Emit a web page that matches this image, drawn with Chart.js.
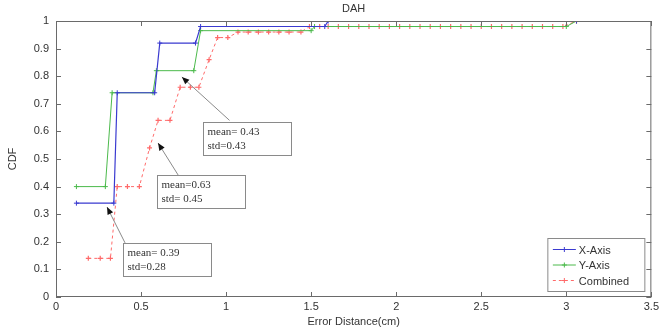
<!DOCTYPE html>
<html>
<head>
<meta charset="utf-8">
<script src="https://cdn.jsdelivr.net/npm/chart.js@4.4.0/dist/chart.umd.min.js"></script>
<style>
  html, body { margin: 0; padding: 0; background: #fff; }
  #wrap { width: 662px; height: 329px; position: relative; }
</style>
</head>
<body>
<div id="wrap"><canvas id="cdfChart"></canvas></div>
<script>
// CDF data
const xAxisPts = [
  [0.12, 0.34], [0.34, 0.34], [0.36, 0.74], [0.58, 0.74], [0.61, 0.92],
  [0.82, 0.92], [0.85, 0.98], [1.58, 0.98], [1.60, 1.0], [3.06, 1.0]
];
const yAxisPts = [
  [0.12, 0.40], [0.29, 0.40], [0.33, 0.74], [0.57, 0.74], [0.59, 0.82],
  [0.81, 0.82], [0.85, 0.965], [1.50, 0.965], [1.52, 0.98], [3.00, 0.98], [3.06, 1.0]
];
const combinedPts = [
  [0.19, 0.14], [0.26, 0.14], [0.32, 0.14], [0.36, 0.40], [0.42, 0.40],
  [0.49, 0.40], [0.55, 0.54], [0.60, 0.64], [0.67, 0.64], [0.73, 0.76],
  [0.79, 0.76], [0.84, 0.76], [0.90, 0.86], [0.95, 0.94], [1.01, 0.94],
  [1.07, 0.96], [1.13, 0.96], [1.19, 0.96], [1.25, 0.96], [1.31, 0.96],
  [1.37, 0.96], [1.44, 0.96], [1.49, 0.98], [1.55, 0.98], [1.60, 0.98],
  [1.66, 0.98], [1.72, 0.98], [1.78, 0.98], [1.84, 0.98], [1.90, 0.98],
  [1.96, 0.98], [2.02, 0.98], [2.08, 0.98], [2.14, 0.98], [2.20, 0.98],
  [2.26, 0.98], [2.32, 0.98], [2.38, 0.98], [2.44, 0.98], [2.50, 0.98],
  [2.56, 0.98], [2.62, 0.98], [2.68, 0.98], [2.74, 0.98], [2.80, 0.98],
  [2.86, 0.98], [2.92, 0.98], [2.98, 0.98], [3.06, 1.0]
];
const seriesNames = ['X-Axis', 'Y-Axis', 'Combined'];
const xTicks = [0, 0.5, 1, 1.5, 2, 2.5, 3, 3.5];
const yTicks = [0, 0.1, 0.2, 0.3, 0.4, 0.5, 0.6, 0.7, 0.8, 0.9, 1];

// text arrows: head = point on curve, tail = where the box starts
const notes = [
  { head: [0.74, 0.797], tail: [1.02, 0.64], box: [0.865, 0.634], lines: ['mean= 0.43', 'std=0.43'] },
  { head: [0.60, 0.558], tail: [0.718, 0.442], box: [0.594, 0.442], lines: ['mean=0.63', 'std= 0.45'] },
  { head: [0.30, 0.326], tail: [0.406, 0.196], box: [0.394, 0.196], lines: ['mean= 0.39', 'std=0.28'] }
];

const toXY = pts => pts.map(p => ({ x: p[0], y: p[1] }));
const labelFont = { family: 'Arial, "Liberation Sans", sans-serif', size: 11 };

// box, inward ticks, title, axis titles, arrows and legend
const matlabDecor = {
  id: 'matlabDecor',
  afterDatasetsDraw(chart) {
    const ctx = chart.ctx;
    const a = chart.chartArea;
    const xs = chart.scales.x, ys = chart.scales.y;
    ctx.save();

    ctx.strokeStyle = '#6a6a6a';
    ctx.lineWidth = 1;
    ctx.strokeRect(a.left + 0.5, a.top + 0.5, a.right - a.left - 1, a.bottom - a.top - 1);
    ctx.beginPath();
    xTicks.forEach(t => {
      const px = Math.round(xs.getPixelForValue(t)) + 0.5;
      ctx.moveTo(px, a.bottom); ctx.lineTo(px, a.bottom - 5);
      ctx.moveTo(px, a.top); ctx.lineTo(px, a.top + 5);
    });
    yTicks.forEach(t => {
      const py = Math.round(ys.getPixelForValue(t)) + 0.5;
      ctx.moveTo(a.left, py); ctx.lineTo(a.left + 5, py);
      ctx.moveTo(a.right, py); ctx.lineTo(a.right - 5, py);
    });
    ctx.stroke();

    ctx.fillStyle = '#333';
    ctx.font = '11px Arial, "Liberation Sans", sans-serif';
    ctx.textAlign = 'center';
    ctx.textBaseline = 'middle';
    ctx.fillText('DAH', (a.left + a.right) / 2, 9);
    ctx.fillText('Error Distance(cm)', (a.left + a.right) / 2, 322);
    ctx.save();
    ctx.translate(13, (a.top + a.bottom) / 2);
    ctx.rotate(-Math.PI / 2);
    ctx.fillText('CDF', 0, 0);
    ctx.restore();

    // annotations
    notes.forEach(n => {
      const hx = xs.getPixelForValue(n.head[0]), hy = ys.getPixelForValue(n.head[1]);
      const tx = xs.getPixelForValue(n.tail[0]), ty = ys.getPixelForValue(n.tail[1]);
      ctx.strokeStyle = '#8a8a8a';
      ctx.lineWidth = 1;
      ctx.beginPath();
      ctx.moveTo(tx, ty); ctx.lineTo(hx, hy);
      ctx.stroke();
      const ang = Math.atan2(hy - ty, hx - tx);
      ctx.fillStyle = '#111';
      ctx.beginPath();
      ctx.moveTo(hx, hy);
      ctx.lineTo(hx - 8 * Math.cos(ang - 0.4), hy - 8 * Math.sin(ang - 0.4));
      ctx.lineTo(hx - 8 * Math.cos(ang + 0.4), hy - 8 * Math.sin(ang + 0.4));
      ctx.closePath();
      ctx.fill();

      const bx = Math.round(xs.getPixelForValue(n.box[0])) + 0.5;
      const by = Math.round(ys.getPixelForValue(n.box[1])) + 0.5;
      ctx.fillStyle = '#fff';
      ctx.fillRect(bx, by, 88, 33);
      ctx.strokeStyle = '#8a8a8a';
      ctx.strokeRect(bx, by, 88, 33);
      ctx.fillStyle = '#333';
      ctx.font = '11px "Liberation Serif", "Times New Roman", serif';
      ctx.textAlign = 'left';
      ctx.textBaseline = 'middle';
      ctx.fillText(n.lines[0], bx + 4, by + 10);
      ctx.fillText(n.lines[1], bx + 4, by + 24);
    });

    // legend in lower right corner
    const lw = 97, lh = 53;
    const lx = a.right - 103.5, ly = a.bottom - 58.5;
    ctx.fillStyle = '#fff';
    ctx.fillRect(lx, ly, lw, lh);
    ctx.strokeStyle = '#8a8a8a';
    ctx.strokeRect(lx, ly, lw, lh);
    chart.data.datasets.forEach((ds, i) => {
      const rowY = ly + 11 + i * 15.5;
      ctx.strokeStyle = ds.borderColor;
      ctx.lineWidth = 1;
      ctx.setLineDash(ds.borderDash || []);
      ctx.beginPath();
      ctx.moveTo(lx + 5, rowY); ctx.lineTo(lx + 28, rowY);
      ctx.stroke();
      ctx.setLineDash([]);
      ctx.beginPath();
      ctx.moveTo(lx + 14, rowY); ctx.lineTo(lx + 19, rowY);
      ctx.moveTo(lx + 16.5, rowY - 2.5); ctx.lineTo(lx + 16.5, rowY + 2.5);
      ctx.stroke();
      ctx.fillStyle = '#333';
      ctx.font = '11px Arial, "Liberation Sans", sans-serif';
      ctx.textAlign = 'left';
      ctx.fillText(ds.label, lx + 31, rowY + 1);
    });
    ctx.restore();
  }
};

new Chart(document.getElementById('cdfChart'), {
  type: 'scatter',
  data: {
    datasets: [
      {
        label: seriesNames[0], data: toXY(xAxisPts), showLine: true,
        borderColor: '#3a3ad0', backgroundColor: '#3a3ad0', borderWidth: 1.2,
        pointStyle: 'cross', pointRadius: 2.5, pointBorderWidth: 1
      },
      {
        label: seriesNames[1], data: toXY(yAxisPts), showLine: true,
        borderColor: '#4cba4c', backgroundColor: '#4cba4c', borderWidth: 1,
        pointStyle: 'cross', pointRadius: 2.5, pointBorderWidth: 1
      },
      {
        label: seriesNames[2], data: toXY(combinedPts), showLine: true,
        borderColor: '#ff6a6a', backgroundColor: '#ff6a6a', borderWidth: 1,
        borderDash: [3, 3], pointStyle: 'cross', pointRadius: 2.5, pointBorderWidth: 1.2
      }
    ]
  },
  options: {
    responsive: true,
    maintainAspectRatio: false,
    animation: false,
    layout: { padding: { top: 21, right: 9, left: 0, bottom: 0 } },
    plugins: {
      legend: { display: false },
      tooltip: { enabled: false }
    },
    scales: {
      x: {
        type: 'linear', min: 0, max: 3.5,
        afterFit: s => { s.height = 32; },
        afterBuildTicks: s => { s.ticks = xTicks.map(v => ({ value: v })); },
        grid: { display: false, drawTicks: false },
        border: { display: false },
        ticks: { padding: 3, color: '#333', font: labelFont, callback: v => String(v) }
      },
      y: {
        type: 'linear', min: 0, max: 1,
        afterFit: s => { s.width = 56; },
        afterBuildTicks: s => { s.ticks = yTicks.map(v => ({ value: v })); },
        grid: { display: false, drawTicks: false },
        border: { display: false },
        ticks: { padding: 7, color: '#333', font: labelFont, callback: v => String(v) }
      }
    }
  },
  plugins: [matlabDecor]
});
</script>
</body>
</html>
